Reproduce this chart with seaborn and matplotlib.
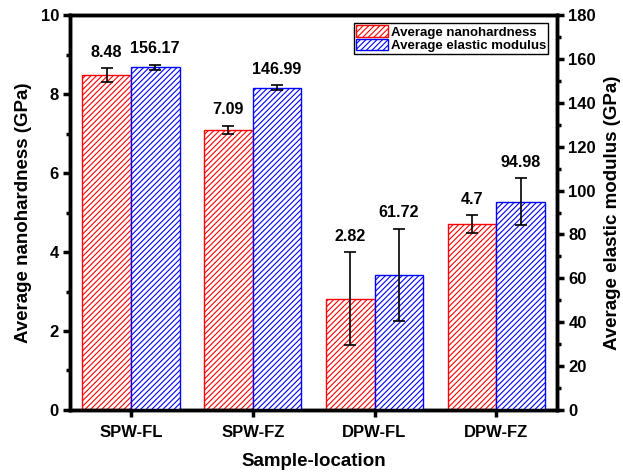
import matplotlib
matplotlib.use("Agg")
import matplotlib.pyplot as plt
import seaborn as sns
import pandas as pd
import numpy as np
from matplotlib.ticker import MultipleLocator
from matplotlib.patches import Patch

categories = ["SPW-FL", "SPW-FZ", "DPW-FL", "DPW-FZ"]
hardness = [8.48, 7.09, 2.82, 4.70]
hardness_err = [0.17, 0.11, 1.18, 0.23]
hardness_labels = ["8.48", "7.09", "2.82", "4.7"]
modulus = [156.17, 146.99, 61.72, 94.98]
modulus_err = [1.2, 1.0, 21.0, 10.8]
modulus_labels = ["156.17", "146.99", "61.72", "94.98"]
series = ["Average nanohardness", "Average elastic modulus"]

sns.set_style("white")
plt.rcParams['font.family'] = ['Liberation Sans', 'DejaVu Sans']
plt.rcParams['font.weight'] = 'bold'
plt.rcParams['hatch.linewidth'] = 0.8
for k in ['text.color', 'axes.labelcolor', 'xtick.color', 'ytick.color', 'axes.edgecolor']:
    plt.rcParams[k] = 'black'

df_h = pd.DataFrame({"cat": categories, "val": hardness, "series": series[0]})
df_m = pd.DataFrame({"cat": categories, "val": modulus, "series": series[1]})

fig = plt.figure(figsize=(6.23, 4.75), dpi=100)
ax1 = fig.add_axes([0.1124, 0.137, 0.782, 0.831])
ax2 = ax1.twinx()

sns.barplot(data=df_h, x="cat", y="val", hue="series", hue_order=series,
            order=categories, ax=ax1, width=0.8, dodge=True, legend=False,
            palette=["white", "white"], errorbar=None)
sns.barplot(data=df_m, x="cat", y="val", hue="series", hue_order=series,
            order=categories, ax=ax2, width=0.8, dodge=True, legend=False,
            palette=["white", "white"], errorbar=None)

def style(ax, color, vals, errs, labels):
    bars = [p for p in ax.patches if p.get_height() > 0]
    bars.sort(key=lambda p: p.get_x())
    xs = []
    for p in bars:
        p.set_facecolor("white")
        p.set_edgecolor(color)
        p.set_linewidth(1.0)
        p.set_hatch("//////")
        xs.append(p.get_x() + p.get_width() / 2)
    ax.errorbar(xs, vals, yerr=errs, fmt="none", ecolor="black",
                elinewidth=1.2, capsize=4, capthick=1.2, zorder=5)
    for x, v, e, t in zip(xs, vals, errs, labels):
        ax.annotate(t, (x, v + e), xytext=(0, 6), textcoords="offset points",
                    ha="center", va="bottom", fontsize=11.6, fontweight="bold",
                    color="black")

style(ax1, "red", hardness, hardness_err, hardness_labels)
style(ax2, "blue", modulus, modulus_err, modulus_labels)

ax1.set_xlim(-0.5, 3.5)
ax1.set_ylim(0, 10)
ax2.set_ylim(0, 180)
ax1.yaxis.set_major_locator(MultipleLocator(2))
ax1.yaxis.set_minor_locator(MultipleLocator(1))
ax2.yaxis.set_major_locator(MultipleLocator(20))
ax2.yaxis.set_minor_locator(MultipleLocator(10))

ax1.set_xlabel("Sample-location", fontsize=13.5, fontweight="bold", labelpad=9)
ax1.set_ylabel("Average nanohardness (GPa)", fontsize=13.5, fontweight="bold", labelpad=6)
ax2.set_ylabel("Average elastic modulus (GPa)", fontsize=13.5, fontweight="bold", labelpad=6)

for ax in (ax1, ax2):
    for s in ax.spines.values():
        s.set_linewidth(2.5)
        s.set_color("black")
    ax.tick_params(axis="both", which="major", direction="out", length=5, width=2.5,
                   labelsize=12, pad=3, color="black", labelcolor="black")
    ax.tick_params(axis="y", which="minor", direction="out", length=3, width=2.5, color="black")
ax1.tick_params(axis="y", which="both", left=True, right=False)
ax1.tick_params(axis="x", which="major", bottom=True, pad=6)
ax2.tick_params(axis="y", which="both", left=False, right=True)
for lab in ax1.get_xticklabels() + ax1.get_yticklabels() + ax2.get_yticklabels():
    lab.set_fontweight("bold")

handles = [Patch(facecolor="white", edgecolor="red", hatch="//////", label=series[0]),
           Patch(facecolor="white", edgecolor="blue", hatch="//////", label=series[1])]
leg = ax2.legend(handles=handles, loc="upper right", bbox_to_anchor=(0.99, 0.99),
                 fancybox=False, edgecolor="black", framealpha=1,
                 prop={"weight": "bold", "size": 9.5}, handlelength=2.4,
                 handleheight=1.0, borderpad=0.15, labelspacing=0.0,
                 handletextpad=0.25, borderaxespad=0.3)
leg.get_frame().set_linewidth(1.0)
for t in leg.get_texts():
    t.set_color("black")

fig.savefig("out.png", dpi=100)
